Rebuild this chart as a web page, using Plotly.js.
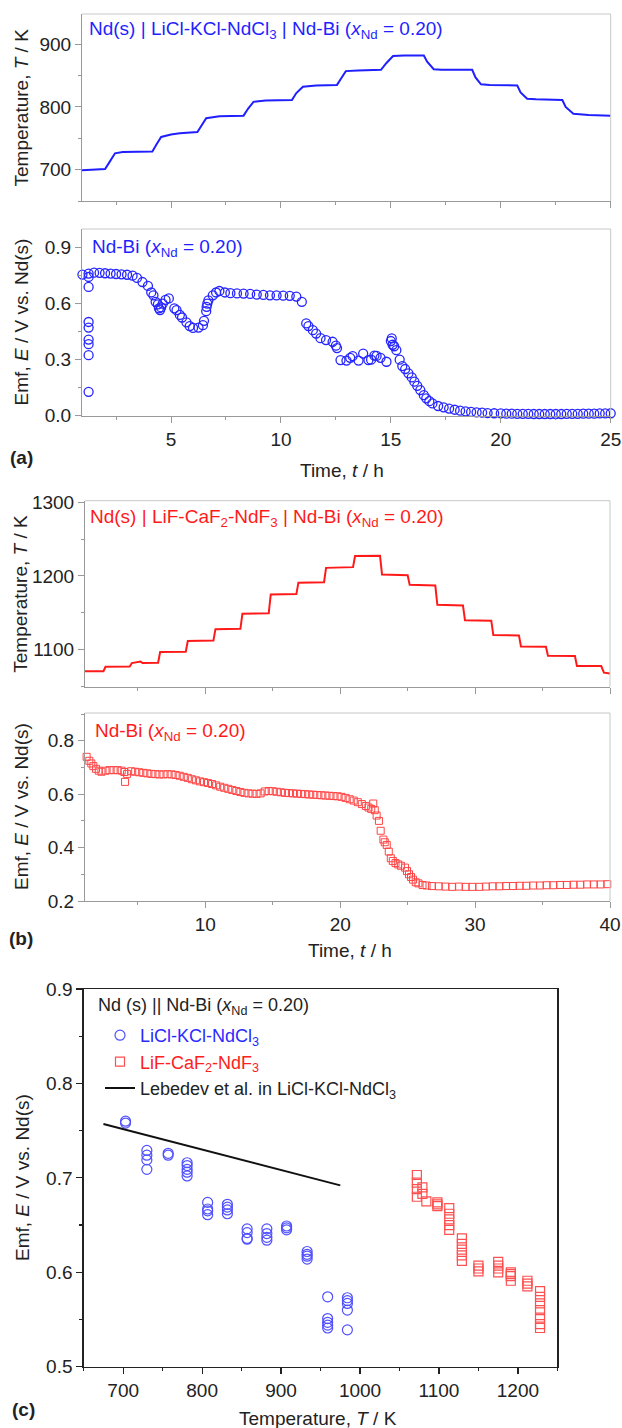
<!DOCTYPE html>
<html><head><meta charset="utf-8">
<script src="https://cdn.plot.ly/plotly-3.0.1.min.js"></script>
<style>html,body{margin:0;padding:0;background:#fff;}#chart{width:622px;height:1428px;}</style>
</head><body><div id="chart"></div>
<script>
// ---------- Panel (a): LiCl-KCl-NdCl3 ----------
const timeTempA = [0.95, 2.0, 2.2, 2.45, 2.8, 4.15, 4.35, 4.55, 5.0, 5.4, 6.2, 6.4, 6.6, 7.2, 8.3, 8.5, 8.75, 9.3, 10.5, 10.7, 11.0, 11.6, 12.55, 12.75, 12.95, 13.5, 14.55, 14.8, 15.1, 15.6, 16.5, 16.65, 16.95, 17.3, 18.7, 18.85, 19.1, 19.5, 20.75, 20.9, 21.2, 21.6, 22.8, 22.95, 23.3, 24.0, 25.0];
const tempA = [699, 701, 712, 726, 728, 729, 741, 752, 756, 758, 760, 772, 782, 785, 786, 797, 808, 810, 811, 822, 832, 834, 835, 846, 857, 858, 859, 870, 881, 882, 882, 872, 860, 859, 859, 847, 836, 835, 834, 823, 813, 812, 811, 800, 789, 787, 786];

const timeEmfA = [0.75, 0.97, 1.25, 1.25, 1.25, 1.25, 1.25, 1.25, 1.25, 1.25, 1.25, 1.5, 1.75, 2.0, 2.25, 2.5, 2.75, 3.0, 3.25, 3.45, 3.7, 3.95, 4.1, 4.2, 4.3, 4.4, 4.45, 4.5, 4.55, 4.62, 4.75, 4.9, 5.15, 5.25, 5.4, 5.5, 5.7, 5.85, 6.0, 6.25, 6.45, 6.5, 6.6, 6.62, 6.65, 6.7, 6.9, 7.05, 7.2, 7.45, 7.7, 8.0, 8.3, 8.6, 8.9, 9.2, 9.5, 9.8, 10.1, 10.4, 10.7, 10.95, 11.15, 11.25, 11.45, 11.6, 11.8, 12.05, 12.35, 12.5, 12.55, 12.71, 12.98, 13.15, 13.26, 13.53, 13.74, 13.98, 14.1, 14.25, 14.35, 14.53, 14.8, 15.0, 15.04, 15.08, 15.15, 15.25, 15.4, 15.52, 15.65, 15.8, 15.95, 16.07, 16.2, 16.34, 16.5, 16.61, 16.75, 16.89, 17.15, 17.4, 17.65, 17.9, 18.15, 18.4, 18.65, 18.9, 19.15, 19.4, 19.7, 20.0, 20.25, 20.5, 20.75, 21.0, 21.25, 21.5, 21.75, 22.0, 22.25, 22.5, 22.75, 23.0, 23.25, 23.5, 23.75, 24.0, 24.25, 24.5, 24.75, 25.0];
const emfA = [0.756, 0.756, 0.761, 0.743, 0.690, 0.502, 0.472, 0.408, 0.383, 0.324, 0.128, 0.766, 0.765, 0.763, 0.761, 0.759, 0.757, 0.755, 0.750, 0.738, 0.716, 0.695, 0.660, 0.645, 0.610, 0.596, 0.575, 0.566, 0.580, 0.600, 0.620, 0.628, 0.575, 0.565, 0.540, 0.526, 0.500, 0.480, 0.470, 0.472, 0.485, 0.508, 0.560, 0.583, 0.600, 0.618, 0.645, 0.660, 0.668, 0.660, 0.656, 0.655, 0.654, 0.652, 0.649, 0.647, 0.645, 0.644, 0.643, 0.642, 0.638, 0.610, 0.494, 0.480, 0.458, 0.440, 0.415, 0.405, 0.396, 0.375, 0.362, 0.298, 0.295, 0.310, 0.319, 0.295, 0.333, 0.298, 0.300, 0.322, 0.320, 0.310, 0.289, 0.400, 0.414, 0.380, 0.372, 0.351, 0.300, 0.266, 0.250, 0.227, 0.205, 0.182, 0.160, 0.137, 0.110, 0.093, 0.078, 0.066, 0.052, 0.045, 0.038, 0.032, 0.027, 0.023, 0.020, 0.018, 0.016, 0.014, 0.013, 0.012, 0.011, 0.011, 0.010, 0.010, 0.010, 0.009, 0.009, 0.009, 0.009, 0.009, 0.009, 0.010, 0.010, 0.010, 0.011, 0.011, 0.011, 0.012, 0.012, 0.013];

// ---------- Panel (b): LiF-CaF2-NdF3 ----------
const timeTempB = [1.0, 2.45, 2.6, 4.4, 4.55, 5.2, 5.35, 6.5, 6.65, 8.55, 8.7, 10.6, 10.75, 12.6, 12.75, 14.7, 14.85, 16.75, 16.9, 18.8, 18.95, 20.95, 21.1, 22.95, 23.1, 25.0, 25.15, 27.05, 27.2, 29.1, 29.25, 31.2, 31.35, 33.25, 33.4, 35.25, 35.4, 37.4, 37.55, 39.35, 39.55, 40.0];
const tempB = [1071, 1071, 1077, 1077.5, 1082, 1084, 1082, 1082.5, 1097, 1097.5, 1112, 1112.5, 1128, 1128.5, 1149, 1149.5, 1175, 1175.5, 1191, 1191.5, 1211, 1212, 1227, 1227.5, 1202, 1201, 1188, 1187, 1161, 1160, 1140, 1139.5, 1120, 1119.5, 1104.5, 1104, 1092, 1091.5, 1078, 1078, 1069, 1068];

const timeEmfB = [1.0, 1.2, 1.4, 1.55, 1.7, 1.9, 2.1, 2.3, 2.6, 2.9, 3.2, 3.5, 3.8, 4.0, 4.05, 4.2, 4.5, 4.8, 5.1, 5.4, 5.7, 6.0, 6.3, 6.6, 6.9, 7.2, 7.5, 7.8, 8.1, 8.4, 8.7, 9.0, 9.3, 9.6, 9.9, 10.2, 10.5, 10.8, 11.1, 11.4, 11.7, 12.0, 12.3, 12.6, 12.9, 13.2, 13.5, 13.8, 14.1, 14.4, 14.7, 15.0, 15.3, 15.6, 15.9, 16.2, 16.5, 16.8, 17.1, 17.4, 17.7, 18.0, 18.3, 18.6, 18.9, 19.2, 19.5, 19.8, 20.1, 20.4, 20.7, 21.0, 21.3, 21.6, 21.9, 22.1, 22.3, 22.45, 22.56, 22.7, 22.87, 23.0, 23.2, 23.3, 23.45, 23.6, 23.75, 23.9, 24.1, 24.3, 24.5, 24.8, 24.95, 25.1, 25.25, 25.4, 25.6, 25.8, 26.1, 26.4, 26.8, 27.3, 27.8, 28.3, 28.8, 29.3, 29.8, 30.3, 30.8, 31.3, 31.8, 32.3, 32.8, 33.3, 33.8, 34.3, 34.8, 35.3, 35.8, 36.3, 36.8, 37.3, 37.8, 38.3, 38.8, 39.3, 39.8];
const emfB = [0.753, 0.740, 0.725, 0.715, 0.705, 0.695, 0.688, 0.684, 0.688, 0.690, 0.690, 0.690, 0.688, 0.683, 0.646, 0.676, 0.686, 0.684, 0.682, 0.680, 0.678, 0.676, 0.675, 0.674, 0.674, 0.675, 0.674, 0.672, 0.669, 0.665, 0.661, 0.656, 0.652, 0.648, 0.645, 0.642, 0.638, 0.633, 0.628, 0.624, 0.620, 0.616, 0.612, 0.608, 0.605, 0.603, 0.602, 0.601, 0.603, 0.610, 0.612, 0.611, 0.609, 0.607, 0.605, 0.604, 0.603, 0.602, 0.601, 0.600, 0.599, 0.598, 0.597, 0.596, 0.595, 0.594, 0.593, 0.592, 0.590, 0.586, 0.581, 0.576, 0.570, 0.563, 0.556, 0.550, 0.545, 0.565, 0.540, 0.520, 0.500, 0.463, 0.430, 0.420, 0.410, 0.385, 0.360, 0.350, 0.342, 0.337, 0.332, 0.325, 0.312, 0.300, 0.290, 0.280, 0.270, 0.266, 0.260, 0.258, 0.256, 0.255, 0.254, 0.253, 0.254, 0.253, 0.253, 0.253, 0.254, 0.255, 0.255, 0.256, 0.256, 0.257, 0.257, 0.258, 0.258, 0.259, 0.259, 0.260, 0.260, 0.261, 0.261, 0.262, 0.262, 0.262, 0.263];

// ---------- Panel (c): Emf vs temperature ----------
const tempCl = [703, 703, 730, 730, 730, 730, 757, 757, 781, 781, 781, 781, 781, 807, 807, 807, 807, 832, 832, 832, 832, 857, 857, 857, 857, 882, 882, 882, 882, 907, 907, 907, 933, 933, 933, 933, 959, 959, 959, 959, 959, 984, 984, 984, 984, 984];
const emfCl = [0.758, 0.760, 0.729, 0.724, 0.719, 0.709, 0.726, 0.724, 0.716, 0.713, 0.709, 0.706, 0.702, 0.674, 0.667, 0.665, 0.661, 0.672, 0.669, 0.666, 0.662, 0.646, 0.642, 0.636, 0.635, 0.646, 0.641, 0.637, 0.634, 0.649, 0.647, 0.645, 0.622, 0.619, 0.617, 0.614, 0.574, 0.551, 0.547, 0.544, 0.541, 0.573, 0.570, 0.567, 0.560, 0.539];
const tempF = [1072, 1072, 1072, 1072, 1079, 1079, 1084, 1098, 1098, 1098, 1113, 1113, 1113, 1113, 1113, 1129, 1129, 1129, 1129, 1129, 1150, 1150, 1150, 1175, 1175, 1175, 1175, 1191, 1191, 1191, 1191, 1212, 1212, 1212, 1228, 1228, 1228, 1228, 1228, 1228, 1228];
const emfF = [0.703, 0.695, 0.688, 0.680, 0.690, 0.683, 0.675, 0.674, 0.672, 0.670, 0.668, 0.662, 0.656, 0.650, 0.645, 0.636, 0.630, 0.624, 0.618, 0.612, 0.607, 0.604, 0.601, 0.611, 0.607, 0.604, 0.600, 0.600, 0.598, 0.596, 0.591, 0.591, 0.588, 0.585, 0.580, 0.574, 0.567, 0.560, 0.552, 0.545, 0.541];
const tempLebedev = [675, 975];
const emfLebedev = [0.757, 0.692];

// ---------- styling ----------
const FONT = 'Arial, "Liberation Sans", sans-serif';
const BLUE = '#1f1fff', RED = '#ff1a1a';
const W = 622, H = 1428;
const px = v => v / W, py = v => 1 - v / H;

const traces = [
  {x: timeTempA, y: tempA, xaxis: 'x', yaxis: 'y', mode: 'lines', line: {color: BLUE, width: 2}, showlegend: false},
  {x: timeEmfA, y: emfA, xaxis: 'x2', yaxis: 'y2', mode: 'markers', cliponaxis: false,
   marker: {symbol: 'circle-open', size: 9, color: '#2525ff', line: {width: 1.3}}, showlegend: false},
  {x: timeTempB, y: tempB, xaxis: 'x3', yaxis: 'y3', mode: 'lines', line: {color: RED, width: 2}, showlegend: false},
  {x: timeEmfB, y: emfB, xaxis: 'x4', yaxis: 'y4', mode: 'markers', cliponaxis: false,
   marker: {symbol: 'square-open', size: 7, color: '#ff4545', line: {width: 1}}, showlegend: false},
  {x: tempCl, y: emfCl, xaxis: 'x5', yaxis: 'y5', mode: 'markers', name: '<span style="color:#2a2aff">LiCl-KCl-NdCl<sub>3</sub></span>',
   marker: {symbol: 'circle-open', size: 10, color: '#5050ff', line: {width: 1.2}}},
  {x: tempF, y: emfF, xaxis: 'x5', yaxis: 'y5', mode: 'markers', name: '<span style="color:#ff2020">LiF-CaF<sub>2</sub>-NdF<sub>3</sub></span>',
   marker: {symbol: 'square-open', size: 9, color: '#ff5050', line: {width: 1.2}}},
  {x: tempLebedev, y: emfLebedev, xaxis: 'x5', yaxis: 'y5', mode: 'lines', name: 'Lebedev et al. in LiCl-KCl-NdCl<sub>3</sub>',
   line: {color: '#111', width: 2}}
];

const tickFont = {family: FONT, size: 19, color: '#222'};
function grayAxis(extra) {
  return Object.assign({
    showline: true, linecolor: '#999', linewidth: 1, mirror: false,
    ticks: 'outside', ticklen: 6, tickcolor: '#999', tickwidth: 1,
    showgrid: false, zeroline: false, tickfont: tickFont, fixedrange: true
  }, extra);
}
function blackAxis(extra) {
  return Object.assign({
    showline: true, linecolor: '#222', linewidth: 1.4, mirror: true,
    ticks: 'outside', ticklen: 6, tickcolor: '#222', tickwidth: 1.2,
    showgrid: false, zeroline: false, tickfont: tickFont, fixedrange: true
  }, extra);
}

const xdA = [px(82), px(610.7)];
const xdB = [px(85), px(610)];

const layout = {
  width: W, height: H,
  margin: {l: 0, r: 0, t: 0, b: 0},
  paper_bgcolor: '#fff', plot_bgcolor: '#fff',
  font: {family: FONT, size: 19, color: '#222'},
  xaxis: grayAxis({domain: xdA, anchor: 'y', range: [0.95, 25], tick0: 0, dtick: 5, showticklabels: false,
    minor: {dtick: 2.5, tick0: 0, ticks: 'outside', ticklen: 3, tickcolor: '#999'}}),
  yaxis: grayAxis({domain: [py(201), py(14)], anchor: 'x', range: [650, 948], tick0: 0, dtick: 100,
    minor: {dtick: 50, tick0: 0, ticks: 'outside', ticklen: 3, tickcolor: '#999'}}),
  xaxis2: grayAxis({domain: xdA, anchor: 'y2', range: [0.95, 25], tick0: 0, dtick: 5,
    minor: {dtick: 2.5, tick0: 0, ticks: 'outside', ticklen: 3, tickcolor: '#999'}}),
  yaxis2: grayAxis({domain: [py(415.7), py(229)], anchor: 'x2', range: [0, 1.0], tick0: 0, dtick: 0.3, tickformat: '.1f',
    minor: {dtick: 0.15, tick0: 0, ticks: 'outside', ticklen: 3, tickcolor: '#999'}}),
  xaxis3: grayAxis({domain: xdB, anchor: 'y3', range: [1.08, 40], tick0: 0, dtick: 10, showticklabels: false,
    minor: {dtick: 5, tick0: 0, ticks: 'outside', ticklen: 3, tickcolor: '#999'}}),
  yaxis3: grayAxis({domain: [py(686.7), py(500.7)], anchor: 'x3', range: [1050, 1302], tick0: 0, dtick: 100,
    minor: {dtick: 50, tick0: 0, ticks: 'outside', ticklen: 3, tickcolor: '#999'}}),
  xaxis4: grayAxis({domain: xdB, anchor: 'y4', range: [1.08, 40], tick0: 0, dtick: 10,
    minor: {dtick: 5, tick0: 0, ticks: 'outside', ticklen: 3, tickcolor: '#999'}}),
  yaxis4: grayAxis({domain: [py(901), py(713)], anchor: 'x4', range: [0.2, 0.904], tick0: 0, dtick: 0.2, tickformat: '.1f',
    minor: {dtick: 0.1, tick0: 0, ticks: 'outside', ticklen: 3, tickcolor: '#999'}}),
  xaxis5: blackAxis({domain: [px(83.7), px(557.4)], anchor: 'y5', range: [650, 1250], tick0: 0, dtick: 100,
    minor: {dtick: 50, tick0: 0, ticks: 'outside', ticklen: 3, tickcolor: '#222'}}),
  yaxis5: blackAxis({domain: [py(1366.7), py(989)], anchor: 'x5', range: [0.5, 0.9], tick0: 0, dtick: 0.1, tickformat: '.1f',
    minor: {dtick: 0.05, tick0: 0, ticks: 'outside', ticklen: 3, tickcolor: '#222'}}),
  showlegend: true,
  legend: {
    x: px(100), y: py(1017), xanchor: 'left', yanchor: 'top',
    bgcolor: 'rgba(0,0,0,0)', borderwidth: 0,
    font: {family: FONT, size: 18, color: '#222'},
    traceorder: 'normal', tracegroupgap: 0
  },
  shapes: [],
  annotations: []
};

// light gray top/right frame lines for panels (a) and (b)
['', '2', '3', '4'].forEach(s => {
  const xr = 'x' + s + ' domain', yr = 'y' + s + ' domain';
  layout.shapes.push({type: 'line', xref: xr, yref: yr, x0: 0, x1: 1, y0: 1, y1: 1, line: {color: '#c8c8c8', width: 1}});
  layout.shapes.push({type: 'line', xref: xr, yref: yr, x0: 1, x1: 1, y0: 0, y1: 1, line: {color: '#c8c8c8', width: 1}});
});

function ann(text, x, y, opts) {
  layout.annotations.push(Object.assign({text: text, x: x, y: y, xref: 'paper', yref: 'paper',
    showarrow: false, xanchor: 'center', yanchor: 'middle', font: {family: FONT, size: 19, color: '#222'}}, opts || {}));
}
// y titles
ann('Temperature, <i>T</i> / K', px(21), py(107.5), {textangle: -90});
ann('Emf, <i>E</i> / V vs. Nd(s)', px(21), py(322.4), {textangle: -90});
ann('Temperature, <i>T</i> / K', px(21), py(593.7), {textangle: -90});
ann('Emf, <i>E</i> / V vs. Nd(s)', px(21), py(807), {textangle: -90});
ann('Emf, <i>E</i> / V vs. Nd(s)', px(22), py(1178), {textangle: -90});
// x titles
ann('Time, <i>t</i> / h', px(342), py(471));
ann('Time, <i>t</i> / h', px(350), py(950));
ann('Temperature, <i>T</i> / K', px(318), py(1418));
// panel letters
ann('<b>(a)</b>', px(21), py(458));
ann('<b>(b)</b>', px(21), py(938));
ann('<b>(c)</b>', px(23), py(1409));
// in-plot titles
ann('Nd(s) | LiCl-KCl-NdCl<sub>3</sub> | Nd-Bi (<i>x</i><sub>Nd</sub> = 0.20)', px(87), py(30), {xanchor: 'left', font: {family: FONT, size: 19, color: BLUE}});
ann('Nd-Bi (<i>x</i><sub>Nd</sub> = 0.20)', px(90), py(248), {xanchor: 'left', font: {family: FONT, size: 19, color: BLUE}});
ann('Nd(s) | LiF-CaF<sub>2</sub>-NdF<sub>3</sub> | Nd-Bi (<i>x</i><sub>Nd</sub> = 0.20)', px(88), py(518), {xanchor: 'left', font: {family: FONT, size: 19, color: RED}});
ann('Nd-Bi (<i>x</i><sub>Nd</sub> = 0.20)', px(93), py(732), {xanchor: 'left', font: {family: FONT, size: 19, color: RED}});
// legend heading of panel (c)
ann('Nd (s) || Nd-Bi (<i>x</i><sub>Nd</sub> = 0.20)', px(96), py(1006), {xanchor: 'left', font: {family: FONT, size: 18, color: '#222'}});

Plotly.newPlot('chart', traces, layout, {displayModeBar: false, staticPlot: true});
</script></body></html>
